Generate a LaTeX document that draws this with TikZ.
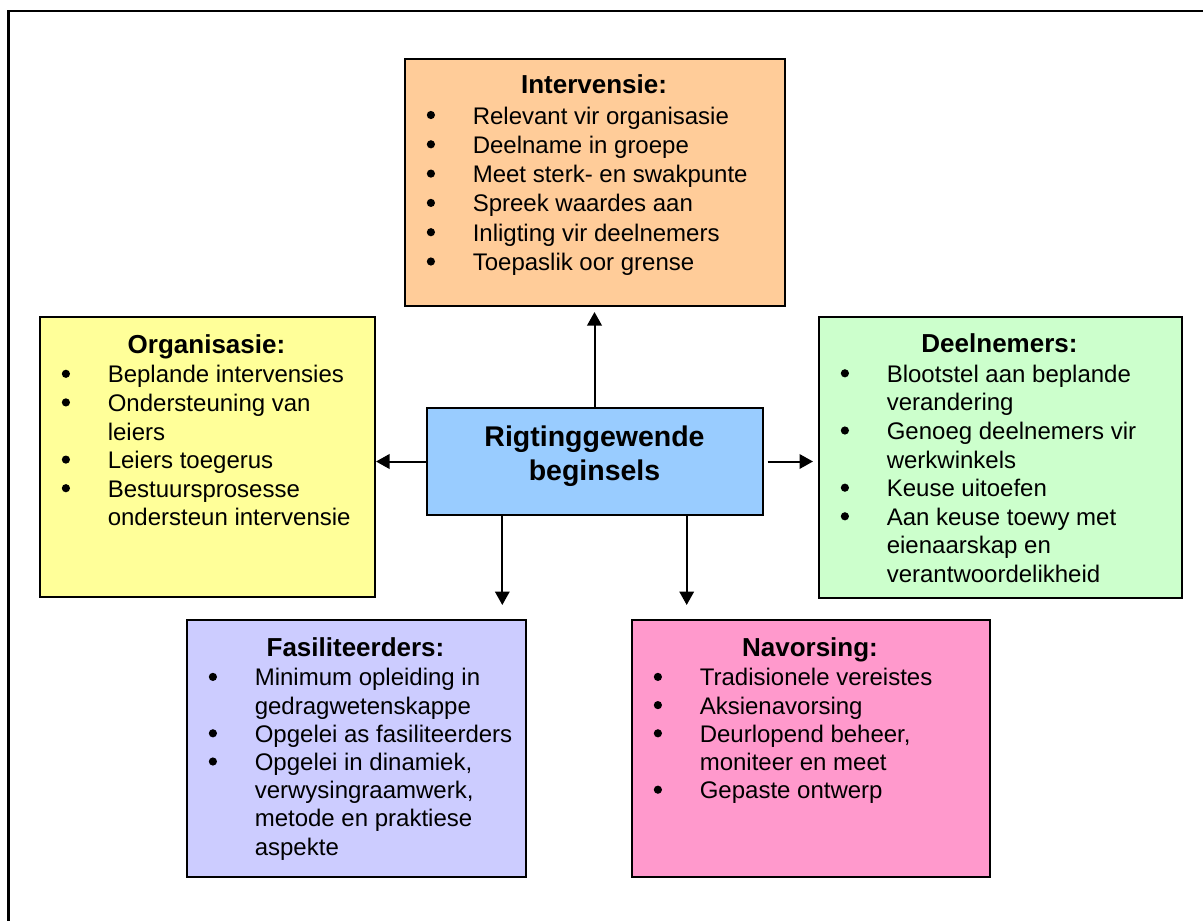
\documentclass[tikz,border=0pt]{standalone}
\usepackage{fontspec}
\setmainfont{Liberation Sans}
\usetikzlibrary{arrows.meta}

\definecolor{intfill}{HTML}{FFCC99}
\definecolor{orgfill}{HTML}{FFFF99}
\definecolor{ctrfill}{HTML}{99CCFF}
\definecolor{dlnfill}{HTML}{CCFFCC}
\definecolor{fasfill}{HTML}{CCCCFF}
\definecolor{navfill}{HTML}{FF99CC}

% round list dot, centred 9pt above the baseline
\newcommand\listdot{\tikz[baseline=-9pt]\fill[black] (0pt,0pt) circle[radius=4.1pt];}
% one bullet line of a panel, with hanging indent for wrapped lines
\newcommand\bp{\par\noindent\hangindent=46pt\hangafter=1
  \makebox[46pt][l]{\smash{\listdot}}\ignorespaces}
% panel body: #1 width (pt), #2 line pitch (pt), #3 heading, #4 bullet lines
\newcommand\panelbody[4]{%
  \begin{minipage}[t]{#1pt}%
    \fontsize{24}{#2pt}\selectfont\raggedright\hyphenpenalty=10000
    \noindent\hbox to\linewidth{\hfil\fontsize{26}{30}\selectfont\bfseries #3\hfil\hskip22.8pt}\par
    \vspace{1.2pt}%
    #4\par
  \end{minipage}}

\tikzset{
  panel/.style={rectangle, draw=black, line width=2pt, inner sep=0pt},
  body/.style={anchor=base west, inner sep=0pt, outer sep=0pt},
  arr/.style={line width=2pt, -{Triangle[length=13.5pt,width=14.5pt]}},
  frame/.style={draw=black, line width=2.7pt}
}

\begin{document}
\begin{tikzpicture}[x=1pt, y=-1pt]
\useasboundingbox (0,0) rectangle (1203,921);

% page frame, running off the right and bottom edges
\begin{scope}
  \clip (0,0) rectangle (1203,921);
  \draw[frame] (8.7,11) rectangle (1260,980);
\end{scope}

% panels
\node[panel, fill=intfill, minimum width=380pt, minimum height=247pt] (int) at (595,182.5) {};
\node[panel, fill=orgfill, minimum width=335pt, minimum height=280pt] (org) at (207.5,457) {};
\node[panel, fill=ctrfill, minimum width=336pt, minimum height=107pt] (ctr) at (594.5,461.5) {};
\node[panel, fill=dlnfill, minimum width=363pt, minimum height=281pt] (dln) at (1000.5,457.5) {};
\node[panel, fill=fasfill, minimum width=339pt, minimum height=257pt] (fas) at (356.5,748.5) {};
\node[panel, fill=navfill, minimum width=358pt, minimum height=257pt] (nav) at (811,748.5) {};

% panel texts
\node[body] (int-txt) at ([xshift=22.8pt,yshift=-35.5pt]int.north west) {\panelbody{357.2}{29.3}{Intervensie:}{%
  \bp Relevant vir organisasie
  \bp Deelname in groepe
  \bp Meet sterk- en swakpunte
  \bp Spreek waardes aan
  \bp Inligting vir deelnemers
  \bp Toepaslik oor grense}};

\node[body] (org-txt) at ([xshift=22.8pt,yshift=-37pt]org.north west) {\panelbody{312.2}{28.6}{Organisasie:}{%
  \bp Beplande intervensies
  \bp Ondersteuning van\newline leiers
  \bp Leiers toegerus
  \bp Bestuursprosesse\newline ondersteun intervensie}};

\node[body] (dln-txt) at ([xshift=22.8pt,yshift=-36.5pt]dln.north west) {\panelbody{340.2}{28.6}{Deelnemers:}{%
  \bp Blootstel aan beplande\newline verandering
  \bp Genoeg deelnemers vir\newline werkwinkels
  \bp Keuse uitoefen
  \bp Aan keuse toewy met\newline eienaarskap en\newline verantwoordelikheid}};

\node[body] (fas-txt) at ([xshift=22.8pt,yshift=-37.5pt]fas.north west) {\panelbody{316.2}{28.2}{Fasiliteerders:}{%
  \bp Minimum opleiding in\newline gedragwetenskappe
  \bp Opgelei as fasiliteerders
  \bp Opgelei in dinamiek,\newline verwysingraamwerk,\newline metode en praktiese\newline aspekte}};

\node[body] (nav-txt) at ([xshift=22.8pt,yshift=-37.5pt]nav.north west) {\panelbody{335.2}{28.2}{Navorsing:}{%
  \bp Tradisionele vereistes
  \bp Aksienavorsing
  \bp Deurlopend beheer,\newline moniteer en meet
  \bp Gepaste ontwerp}};

\node[anchor=base, inner sep=0pt] (ctr-txt) at ([yshift=-39pt]ctr.north) {%
  \begin{minipage}[t]{320pt}\centering\fontsize{28.5}{34.5}\selectfont\bfseries
  Rigtinggewende\\beginsels\end{minipage}};

% connectors
\coordinate (dl) at (502.3,605);
\coordinate (dr) at (686.7,605);
\draw[arr, shorten >=5pt] (ctr.north) -- (ctr.north |- int.south);
\draw[arr] (ctr.west) -- (ctr.west -| org.east);
\draw[arr, shorten <=4pt, shorten >=5pt] (ctr.east) -- (ctr.east -| dln.west);
\draw[arr] (ctr.south -| dl) -- (dl);
\draw[arr] (ctr.south -| dr) -- (dr);
\end{tikzpicture}
\end{document}
